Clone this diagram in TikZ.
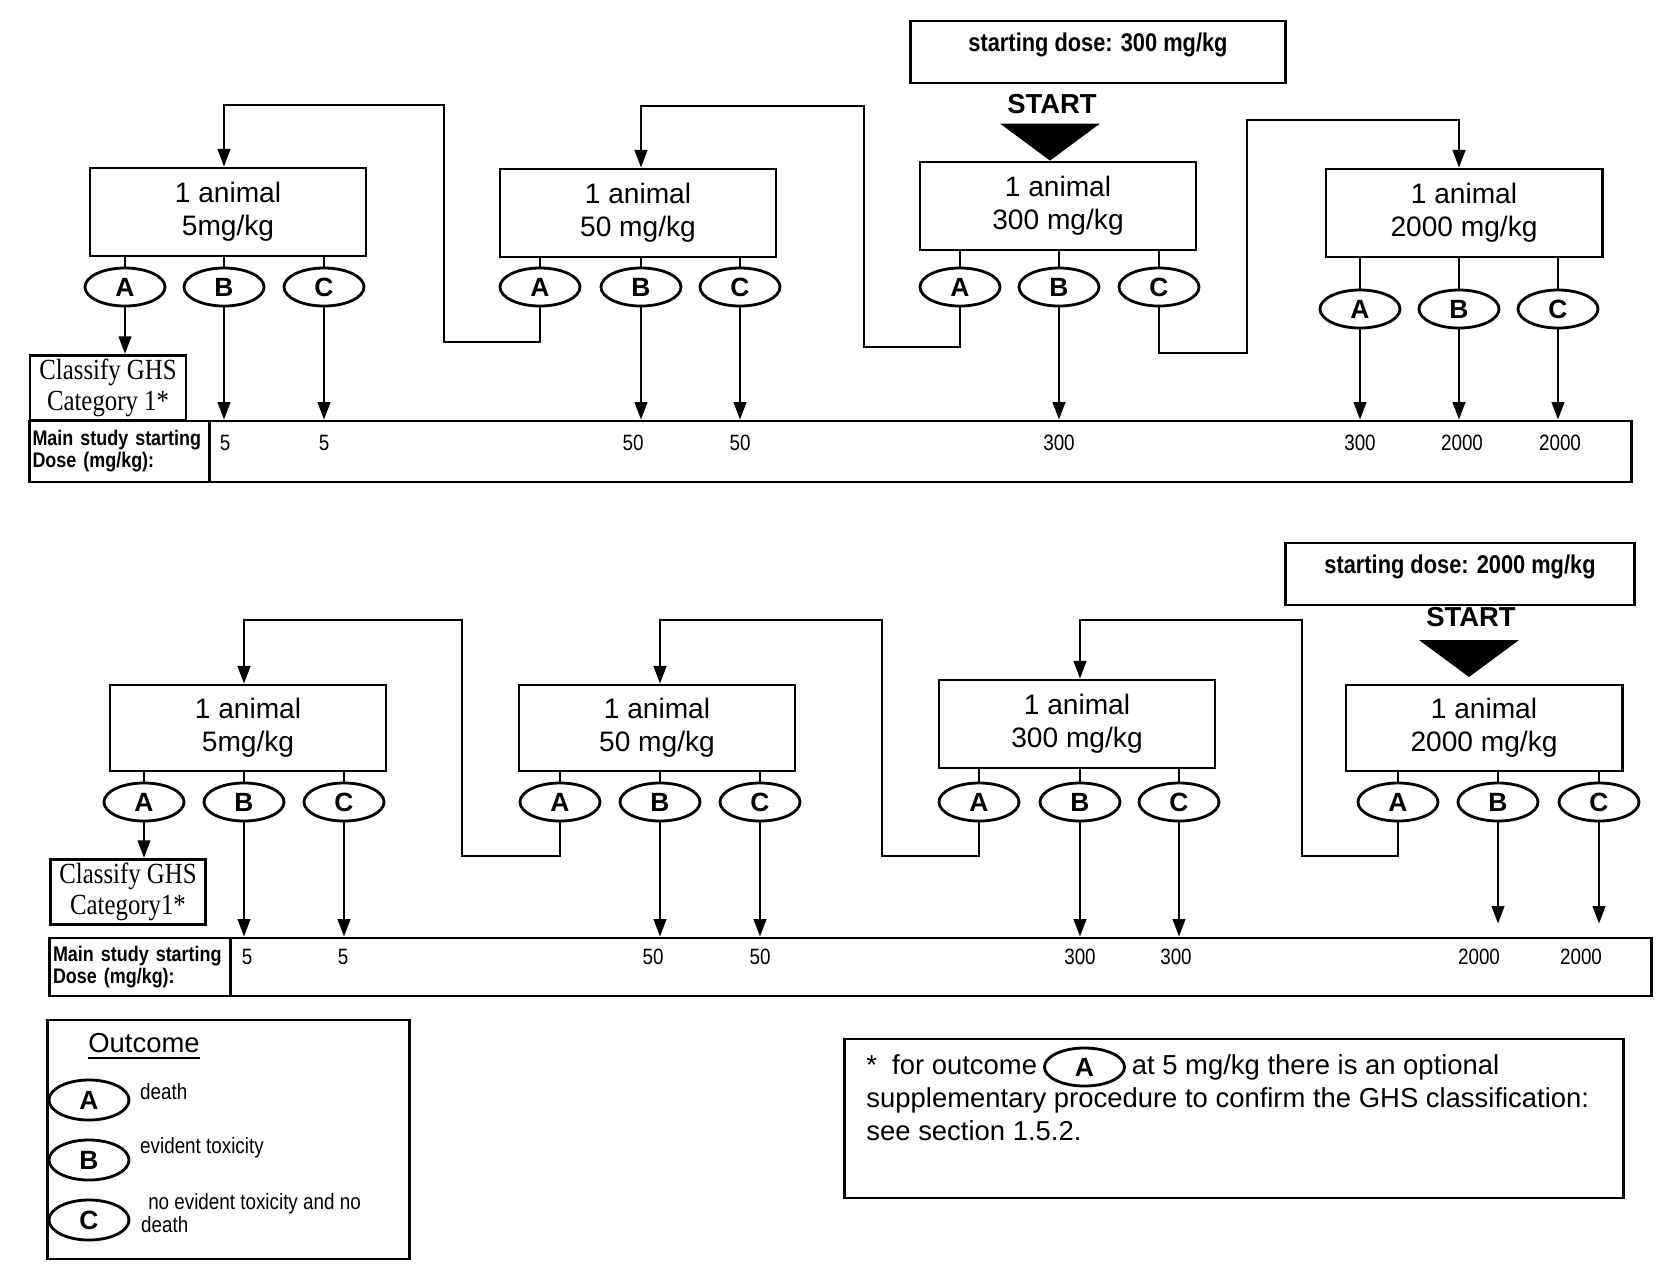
\documentclass[tikz,border=0pt]{standalone}
\usepackage{fontspec}
\setmainfont{Liberation Sans}
\newfontfamily\narrowsans{Liberation Sans}[FakeStretch=0.85]
\newfontfamily\narrowserif{Liberation Serif}[FakeStretch=0.85]
\usetikzlibrary{arrows.meta, positioning, shapes.geometric}

\begin{document}
\begin{tikzpicture}[
  x=0.01cm, y=-0.01cm,
  animal/.style={rectangle, draw, line width=0.8pt, minimum width=2.76cm,
                 minimum height=0.88cm, align=center, font=\fontsize{8}{9.4}\selectfont},
  outcome/.style={ellipse, draw, line width=0.8pt, minimum width=0.8cm,
                  minimum height=0.38cm, inner sep=0pt, font=\bfseries\fontsize{7.5}{8}\selectfont},
  classify/.style={rectangle, draw, line width=0.8pt, minimum width=1.56cm,
                   minimum height=0.61cm, inner sep=1pt, align=center,
                   font=\narrowserif\fontsize{8.3}{9}\selectfont},
  dosebox/.style={rectangle, draw, line width=0.8pt, minimum height=0.5cm, text depth=0.2cm,
                  font=\narrowsans\bfseries\fontsize{7.3}{8}\selectfont},
  startlbl/.style={font=\bfseries\fontsize{7.8}{9}\selectfont},
  bar/.style={rectangle, draw, line width=0.8pt, minimum width=16.01cm, inner sep=0pt},
  barlbl/.style={rectangle, draw, line width=0.8pt, minimum width=1.8cm, text width=1.74cm,
                 inner sep=0.5pt, align=left, font=\narrowsans\bfseries\fontsize{6}{6.3}\selectfont},
  dosenum/.style={font=\narrowsans\fontsize{6.3}{7}\selectfont},
  legtxt/.style={font=\narrowsans\fontsize{6.3}{6.4}\selectfont, align=left, inner sep=1pt},
  notetxt/.style={font=\fontsize{7.8}{9}\selectfont, text height=6.2pt, text depth=1.8pt, inner sep=0.5pt},
  frame/.style={rectangle, draw, line width=0.8pt},
  arr/.style={-{Triangle[length=5pt,width=3.6pt]}, line width=0.6pt},
  link/.style={line width=0.6pt}
]
  \useasboundingbox (0,0) rectangle (1675,1275);

  % starting dose 300 mg/kg
  \node[dosebox, minimum width=3.75cm] (sd1) at (1098,52) {starting dose: 300 mg/kg};
  \node[startlbl] (st1) at (1052,104) {START};

  \node[animal] (t1) at (228,212)  {1 animal\\5mg/kg};
  \node[animal] (t2) at (638,213)  {1 animal\\50 mg/kg};
  \node[animal] (t3) at (1058,206) {1 animal\\300 mg/kg};
  \node[animal] (t4) at (1464,213) {1 animal\\2000 mg/kg};
  \fill ([xshift=-0.08cm]t3.north) -- ++(-50,-37) -- ++(100,0) -- cycle;

  \node[outcome] (t1a) at (125,287)  {A};
  \node[outcome] (t1b) at (224,287)  {B};
  \node[outcome] (t1c) at (324,287)  {C};
  \node[outcome] (t2a) at (540,287)  {A};
  \node[outcome] (t2b) at (641,287)  {B};
  \node[outcome] (t2c) at (740,287)  {C};
  \node[outcome] (t3a) at (960,287)  {A};
  \node[outcome] (t3b) at (1059,287) {B};
  \node[outcome] (t3c) at (1159,287) {C};
  \node[outcome] (t4a) at (1360,309) {A};
  \node[outcome] (t4b) at (1459,309) {B};
  \node[outcome] (t4c) at (1558,309) {C};

  \draw[link] (t1a.north) -- (t1a.north |- t1.south) (t1b.north) -- (t1b.north |- t1.south)
              (t1c.north) -- (t1c.north |- t1.south);
  \draw[link] (t2a.north) -- (t2a.north |- t2.south) (t2b.north) -- (t2b.north |- t2.south)
              (t2c.north) -- (t2c.north |- t2.south);
  \draw[link] (t3a.north) -- (t3a.north |- t3.south) (t3b.north) -- (t3b.north |- t3.south)
              (t3c.north) -- (t3c.north |- t3.south);
  \draw[link] (t4a.north) -- (t4a.north |- t4.south) (t4b.north) -- (t4b.north |- t4.south)
              (t4c.north) -- (t4c.north |- t4.south);

  \node[classify] (c1) at (108,388) {Classify GHS\\Category 1*};

  \node[bar, minimum height=0.61cm] (bar1) at (830.5,451.5) {};
  \node[barlbl, minimum height=0.61cm, anchor=west] (bar1lbl) at (bar1.west)
       {Main study starting\\Dose (mg/kg):};
  \node[dosenum] (v11) at (225,443)  {5};
  \node[dosenum] (v12) at (324,443)  {5};
  \node[dosenum] (v13) at (633,443)  {50};
  \node[dosenum] (v14) at (740,443)  {50};
  \node[dosenum] (v15) at (1059,443) {300};
  \node[dosenum] (v16) at (1360,443) {300};
  \node[dosenum] (v17) at (1462,443) {2000};
  \node[dosenum] (v18) at (1560,443) {2000};

  \draw[arr] (t1a.south) -- (t1a.south |- c1.north);
  \draw[arr] (t1b.south) -- (t1b.south |- bar1.north);
  \draw[arr] (t1c.south) -- (t1c.south |- bar1.north);
  \draw[arr] (t2b.south) -- (t2b.south |- bar1.north);
  \draw[arr] (t2c.south) -- (t2c.south |- bar1.north);
  \draw[arr] (t3b.south) -- (t3b.south |- bar1.north);
  \draw[arr] (t4a.south) -- (t4a.south |- bar1.north);
  \draw[arr] (t4b.south) -- (t4b.south |- bar1.north);
  \draw[arr] (t4c.south) -- (t4c.south |- bar1.north);

  \draw[arr] (t2a.south) -- ++(0,35) -| (444,105) -| (t1b |- t1.north);
  \draw[arr] (t3a.south) -- ++(0,40) -| (864,106) -| (t2b |- t2.north);
  \draw[arr] (t3c.south) -- ++(0,46) -| (1247,120) -| (t4b |- t4.north);

  % starting dose 2000 mg/kg
  \node[dosebox, minimum width=3.49cm] (sd2) at (1460,574) {starting dose: 2000 mg/kg};
  \node[startlbl] (st2) at (1471,617) {START};
  \fill (1419,640) -- (1519,640) -- (1469,677) -- cycle;

  \node[animal, minimum height=0.86cm] (b1) at (248,728)  {1 animal\\5mg/kg};
  \node[animal, minimum height=0.86cm] (b2) at (657,728)  {1 animal\\50 mg/kg};
  \node[animal] (b3) at (1077,724) {1 animal\\300 mg/kg};
  \node[animal, minimum height=0.86cm] (b4) at (1484,728) {1 animal\\2000 mg/kg};

  \node[outcome] (b1a) at (144,802)  {A};
  \node[outcome] (b1b) at (244,802)  {B};
  \node[outcome] (b1c) at (344,802)  {C};
  \node[outcome] (b2a) at (560,802)  {A};
  \node[outcome] (b2b) at (660,802)  {B};
  \node[outcome] (b2c) at (760,802)  {C};
  \node[outcome] (b3a) at (979,802)  {A};
  \node[outcome] (b3b) at (1080,802) {B};
  \node[outcome] (b3c) at (1179,802) {C};
  \node[outcome] (b4a) at (1398,802) {A};
  \node[outcome] (b4b) at (1498,802) {B};
  \node[outcome] (b4c) at (1599,802) {C};

  \draw[link] (b1a.north) -- (b1a.north |- b1.south) (b1b.north) -- (b1b.north |- b1.south)
              (b1c.north) -- (b1c.north |- b1.south);
  \draw[link] (b2a.north) -- (b2a.north |- b2.south) (b2b.north) -- (b2b.north |- b2.south)
              (b2c.north) -- (b2c.north |- b2.south);
  \draw[link] (b3a.north) -- (b3a.north |- b3.south) (b3b.north) -- (b3b.north |- b3.south)
              (b3c.north) -- (b3c.north |- b3.south);
  \draw[link] (b4a.north) -- (b4a.north |- b4.south) (b4b.north) -- (b4b.north |- b4.south)
              (b4c.north) -- (b4c.north |- b4.south);

  \node[classify, minimum width=1.55cm, minimum height=0.62cm] (c2) at (128,892) {Classify GHS\\Category1*};

  \node[bar, minimum height=0.58cm] (bar2) at (850.5,967) {};
  \node[barlbl, minimum height=0.58cm, minimum width=1.81cm, anchor=west] (bar2lbl) at (bar2.west)
       {Main study starting\\Dose (mg/kg):};
  \node[dosenum] (v21) at (247,957)  {5};
  \node[dosenum] (v22) at (343,957)  {5};
  \node[dosenum] (v23) at (653,957)  {50};
  \node[dosenum] (v24) at (760,957)  {50};
  \node[dosenum] (v25) at (1080,957) {300};
  \node[dosenum] (v26) at (1176,957) {300};
  \node[dosenum] (v27) at (1479,957) {2000};
  \node[dosenum] (v28) at (1581,957) {2000};

  \draw[arr] (b1a.south) -- (b1a.south |- c2.north);
  \draw[arr] (b1b.south) -- (b1b.south |- bar2.north);
  \draw[arr] (b1c.south) -- (b1c.south |- bar2.north);
  \draw[arr] (b2b.south) -- (b2b.south |- bar2.north);
  \draw[arr] (b2c.south) -- (b2c.south |- bar2.north);
  \draw[arr] (b3b.south) -- (b3b.south |- bar2.north);
  \draw[arr] (b3c.south) -- (b3c.south |- bar2.north);
  \draw[arr, shorten >=0.13cm] (b4b.south) -- (b4b.south |- bar2.north);
  \draw[arr, shorten >=0.13cm] (b4c.south) -- (b4c.south |- bar2.north);

  \draw[arr] (b2a.south) -- ++(0,34) -| (462,620) -| (b1b |- b1.north);
  \draw[arr] (b3a.south) -- ++(0,34) -| (882,620) -| (b2b |- b2.north);
  \draw[arr] (b4a.south) -- ++(0,34) -| (1302,620) -| (b3b |- b3.north);

  % legend
  \node[frame, minimum width=3.61cm, minimum height=2.39cm] (leg) at (228.5,1139.5) {};
  \node[font=\fontsize{7.8}{9}\selectfont] (legtitle) at (144,1047) {\underline{Outcome}};
  \node[outcome, minimum height=0.4cm] (lega) at (89,1100) {A};
  \node[outcome, minimum height=0.4cm] (legb) at (89,1160) {B};
  \node[outcome, minimum height=0.4cm] (legc) at (89,1220) {C};
  \node[legtxt, anchor=west] (legta) at (136,1092) {death};
  \node[legtxt, anchor=west] (legtb) at (136,1148) {evident toxicity};
  \node[legtxt, anchor=west] (legtc) at (137,1213) {\hspace{2pt}no evident toxicity and no\\death};

  % footnote
  \node[frame, minimum width=7.78cm, minimum height=1.59cm] (note) at (1234,1118.5) {};
  \node[notetxt, anchor=west] (fn1) at (864,1067) {*\hspace{0.55em}for outcome};
  \node[outcome, right=1pt of fn1] (fnA) {A};
  \node[notetxt, right=1pt of fnA] (fn2) {at 5 mg/kg there is an optional};
  \node[notetxt, anchor=north west] (fn3) at (fn1.south west)
       {supplementary procedure to confirm the GHS classification:};
  \node[notetxt, anchor=north west] (fn4) at (fn3.south west) {see section 1.5.2.};
\end{tikzpicture}
\end{document}
